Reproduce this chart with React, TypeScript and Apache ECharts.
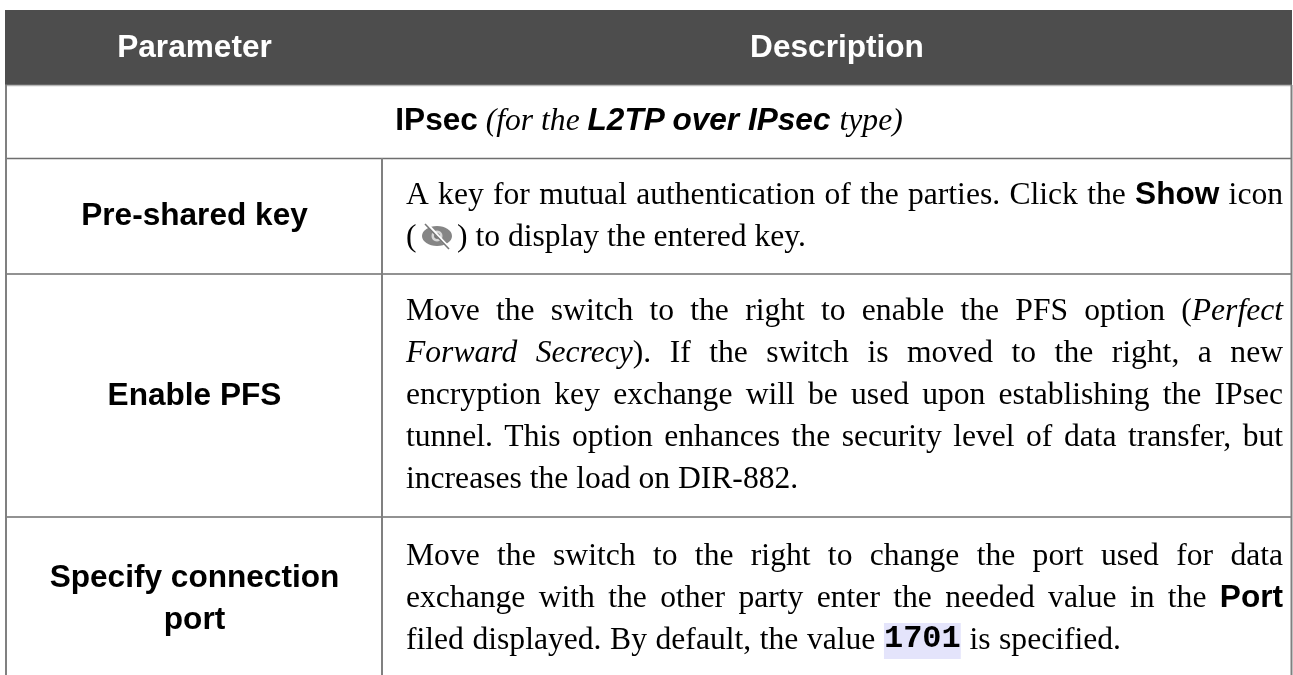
import React, { useEffect, useRef } from "react";
import * as echarts from "echarts";

const WIDTH = 1293;
const HEIGHT = 675;
const SANS = "Liberation Sans";
const SERIF = "Liberation Serif";
const MONO = "Liberation Mono";
const SIZE = 31.6;

const headers = ["Parameter", "Description"];
const parameters = ["Pre-shared key", "Enable PFS", "Specify connection", "port"];

type Run = { t: string; f?: "b" | "i" | "bi" | "m" };
type Line = { y: number; justify: boolean; x?: number; gap?: number; runs: Run[] };
const section: Run[] = [
  { t: "IPsec", f: "b" }, { t: " " }, { t: "(for the", f: "i" }, { t: " " },
  { t: "L2TP over IPsec", f: "bi" }, { t: " " }, { t: "type)", f: "i" },
];

const lines: Line[] = [
  { y: 204, justify: true, runs: [{ t: "A key for mutual authentication of the parties. Click the " }, { t: "Show", f: "b" }, { t: " icon" }] },
  { y: 246, justify: false, runs: [{ t: "(" }] },
  { y: 246, justify: false, x: 457, runs: [{ t: ") to display the entered key." }] },
  { y: 320, justify: true, runs: [{ t: "Move the switch to the right to enable the PFS option (" }, { t: "Perfect", f: "i" }] },
  { y: 362, justify: true, runs: [{ t: "Forward Secrecy", f: "i" }, { t: "). If the switch is moved to the right, a new" }] },
  { y: 404, justify: true, runs: [{ t: "encryption key exchange will be used upon establishing the IPsec" }] },
  { y: 446, justify: true, runs: [{ t: "tunnel. This option enhances the security level of data transfer, but" }] },
  { y: 488, justify: false, runs: [{ t: "increases the load on DIR-882." }] },
  { y: 565, justify: true, runs: [{ t: "Move the switch to the right to change the port used for data" }] },
  { y: 607, justify: true, runs: [{ t: "exchange with the other party enter the needed value in the " }, { t: "Port", f: "b" }] },
  { y: 649, justify: false, gap: 0.7, runs: [{ t: "filed displayed. By default, the value " }, { t: "1701", f: "m" }, { t: " is specified." }] },
];

function fontOf(f?: string) {
  if (f === "b") return `bold ${SIZE}px "${SANS}"`;
  if (f === "bi") return `italic bold ${SIZE}px "${SANS}"`;
  if (f === "i") return `italic ${SIZE}px "${SERIF}"`;
  if (f === "m") return `bold 32px "${MONO}"`;
  return `${SIZE}px "${SERIF}"`;
}

const measure = (() => {
  const ctx = document.createElement("canvas").getContext("2d")!;
  return (s: string, font: string) => { ctx.font = font; return ctx.measureText(s).width; };
})();

function textEl(x: number, baseline: number, t: string, font: string, fill = "#000", align = "left") {
  return { type: "text", x, y: baseline - 0.34 * SIZE, silent: true, z: 2, style: { x: 0, y: 0, text: t, font, fill, textAlign: align, textVerticalAlign: "middle" } };
}

const LEFT = 406;
const RIGHT = 1283;
const CENTER = 649;

function layoutLine(l: Line) {
  const out: any[] = [];
  const tokens: { t: string; f?: string }[] = [];
  l.runs.forEach((r) => r.t.split(/( +)/).forEach((p) => { if (p) tokens.push({ t: p, f: r.f }); }));
  const total = tokens.reduce((a, k) => a + measure(k.t, fontOf(k.f)), 0);
  const spaces = tokens.filter((k) => !k.t.trim()).reduce((a, k) => a + k.t.length, 0);
  const extra = l.justify ? (RIGHT - LEFT - total) / spaces : (l.gap ?? 0);
  let x = l.x ?? LEFT;
  tokens.forEach((k) => {
    const w = measure(k.t, fontOf(k.f));
    if (!k.t.trim()) { x += w + extra * k.t.length; return; }
    if (k.f === "m") out.push({ type: "rect", silent: true, z: 1, shape: { x, y: l.y - 26, width: w, height: 36 }, style: { fill: "#e4e4fb" } });
    out.push(textEl(x, l.y, k.t, fontOf(k.f)));
    x += w;
  });
  return out;
}

function sectionEls() {
  const w = section.reduce((a, r) => a + measure(r.t, fontOf(r.f)), 0);
  let x = CENTER - w / 2;
  return section.map((r) => { const el = textEl(x, 130, r.t, fontOf(r.f)); x += measure(r.t, fontOf(r.f)); return el; });
}

function eyeIcon(cx: number, cy: number) {
  const gray = "#858585";
  return [
    { type: "ellipse", silent: true, z: 3, shape: { cx, cy, rx: 15, ry: 10 }, style: { fill: gray } },
    { type: "circle", silent: true, z: 3, shape: { cx, cy, r: 5.5 }, style: { fill: "#d8d8d8" } },
    { type: "circle", silent: true, z: 3, shape: { cx, cy, r: 3 }, style: { fill: "#777" } },
    { type: "line", silent: true, z: 3, shape: { x1: cx - 11, y1: cy - 13, x2: cx + 13, y2: cy + 13 }, style: { stroke: "#fff", lineWidth: 3 } },
    { type: "line", silent: true, z: 3, shape: { x1: cx - 12, y1: cy - 12, x2: cx + 12, y2: cy + 13 }, style: { stroke: "#777", lineWidth: 1.6 } },
  ];
}

const hLine = (x1: number, x2: number, y: number, stroke = "#6e6e6e", lw = 1.5) => ({ type: "line", silent: true, shape: { x1, y1: y, x2, y2: y }, style: { stroke, lineWidth: lw } });
const vLine = (x: number, y1: number, y2: number, stroke = "#808080", lw = 2) => ({ type: "line", silent: true, shape: { x1: x, y1, x2: x, y2 }, style: { stroke, lineWidth: lw } });

export default function App() {
  const ref = useRef<HTMLDivElement>(null);
  useEffect(() => {
    const chart = echarts.init(ref.current!, null, { renderer: "svg" });
    const H = fontOf("b");
    const elements: any[] = [
      { type: "rect", silent: true, shape: { x: 0, y: 0, width: WIDTH, height: HEIGHT }, style: { fill: "#fff" } },
      { type: "rect", silent: true, shape: { x: 5, y: 10, width: 1287, height: 75 }, style: { fill: "#4d4d4d" } },
      textEl(194.5, 57, headers[0], H, "#fff", "center"),
      textEl(837, 57, headers[1], H, "#fff", "center"),
      hLine(5, 1292, 85.5, "#b8b8b8", 1.5),
      hLine(5, 1292, 158.5),
      hLine(5, 1292, 274),
      hLine(5, 1292, 517),
      vLine(6, 85, 675),
      vLine(1291.5, 85, 675),
      vLine(382, 158, 675),
      textEl(194.5, 225, parameters[0], H, "#000", "center"),
      textEl(194.5, 405, parameters[1], H, "#000", "center"),
      textEl(194.5, 587, parameters[2], H, "#000", "center"),
      textEl(194.5, 629, parameters[3], H, "#000", "center"),
      ...sectionEls(),
      ...lines.flatMap(layoutLine),
      ...eyeIcon(437, 236),
    ];
    chart.setOption({ animation: false, graphic: { elements } });
    return () => chart.dispose();
  }, []);
  return <div ref={ref} style={{ position: "fixed", left: 0, top: 0, width: WIDTH, height: HEIGHT }} />;
}
